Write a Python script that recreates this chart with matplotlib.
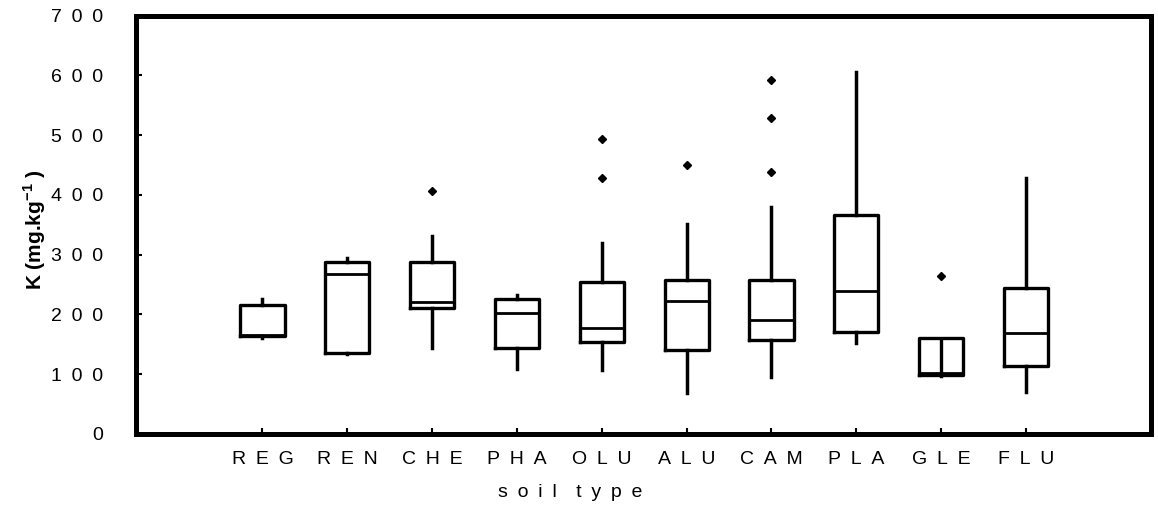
import matplotlib
matplotlib.use("Agg")
import matplotlib.pyplot as plt

categories = ["REG", "REN", "CHE", "PHA", "OLU", "ALU", "CAM", "PLA", "GLE", "FLU"]
whislo = [161, 134, 144, 109, 107, 69, 96, 153, 97, 70]
q1 = [164, 136, 211, 144, 154, 141, 158, 170, 98, 114]
med = [165, 267, 221, 203, 178, 223, 191, 240, 102, 169]
q3 = [215, 287, 287, 225, 255, 258, 258, 367, 161, 245]
whishi = [225, 295, 331, 233, 320, 351, 379, 606, 161, 428]
outliers = [[], [], [407], [], [428, 493], [450], [438, 529, 592], [], [265], []]
yticks = [0, 100, 200, 300, 400, 500, 600, 700]
inner_line_category = "GLE"

SP = "\u2002"
plt.rcParams['font.family'] = ['Liberation Sans', 'DejaVu Sans']
plt.rcParams['mathtext.fontset'] = 'custom'
plt.rcParams['mathtext.rm'] = 'Liberation Sans'
plt.rcParams['mathtext.bf'] = 'Liberation Sans:bold'

fig = plt.figure(figsize=(11.58, 5.09), dpi=100)
ax = fig.add_axes([136/1158, (509-434)/509, (1151-136)/1158, (434-15.5)/509])

stats = []
for i, c in enumerate(categories):
    stats.append(dict(label=SP.join(c), whislo=whislo[i], q1=q1[i], med=med[i],
                      q3=q3[i], whishi=whishi[i], fliers=outliers[i]))

pos = list(range(1, len(categories) + 1))
ax.bxp(stats, positions=pos, widths=0.52, showcaps=False,
       boxprops=dict(color='black', linewidth=2.4),
       whiskerprops=dict(color='black', linewidth=2.5),
       medianprops=dict(color='black', linewidth=2.0),
       flierprops=dict(marker='D', markersize=3.8, markerfacecolor='black',
                       markeredgecolor='black', linestyle='none'))

gi = categories.index(inner_line_category)
ax.vlines(pos[gi], q1[gi], q3[gi], color='black', linewidth=2.4)

ax.set_xlim(-0.491, 11.474)
ax.set_ylim(0, 700)
ax.set_yticks(yticks)
ax.set_yticklabels([SP.join(str(v)) for v in yticks])

for s in ax.spines.values():
    s.set_linewidth(3.6)

ax.tick_params(axis='both', direction='in', length=4, width=1.5, labelsize=14)
ax.tick_params(axis='y', pad=23.5)
ax.tick_params(axis='x', pad=12)

ax.set_ylabel(r'K (mg.kg$^{\mathbf{-1}}$ )', fontsize=15, fontweight='bold')
ax.yaxis.set_label_coords((48-136)/1015, (434-230)/418.5)
ax.set_xlabel(SP.join("soil") + SP + SP + SP.join("type"), fontsize=14)
ax.xaxis.set_label_coords((570-136)/1015, -0.12)

fig.savefig("out.png", dpi=100)
